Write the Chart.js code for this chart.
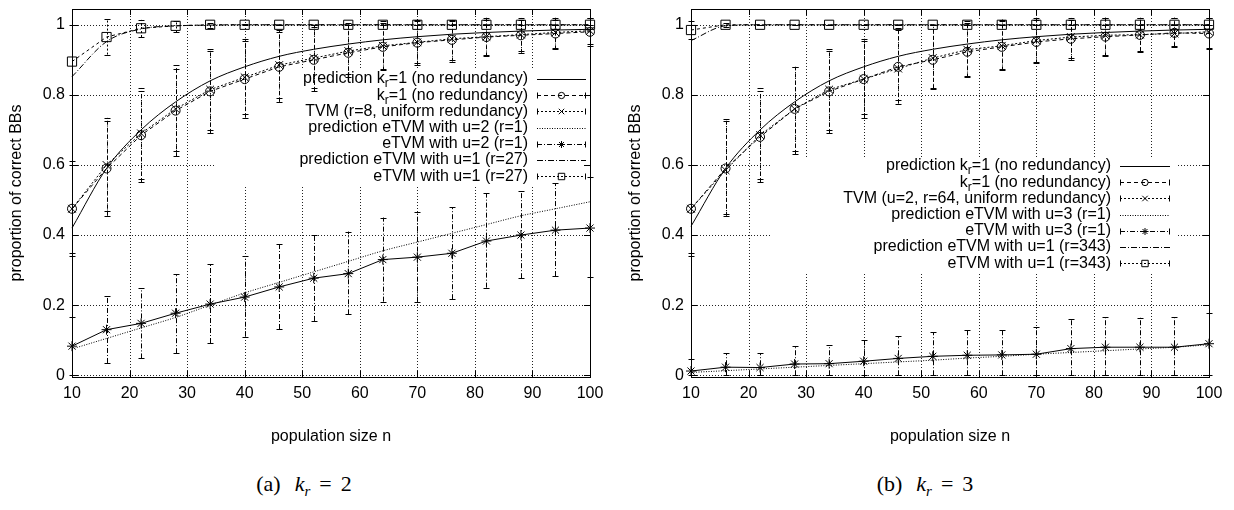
<!DOCTYPE html>
<html>
<head>
<meta charset="utf-8">
<script src="https://cdn.jsdelivr.net/npm/chart.js@4.4.1/dist/chart.umd.min.js"></script>
<style>
  body { margin: 0; background: #fff; width: 1234px; height: 510px; position: relative; overflow: hidden; }
  canvas { position: absolute; top: 0; }
  .cap { position: absolute; top: 471px; width: 240px; text-align: center; font-family: "Liberation Serif", "DejaVu Serif", serif; font-size: 22px; color: #000; white-space: nowrap; }
  .cap sub { font-size: 15px; }
  .cap .lbl { margin-right: 14px; }
  .cap .eq { margin: 0 9px; }
</style>
</head>
<body>
<canvas id="chartA" width="615" height="450" style="left:0"></canvas>
<canvas id="chartB" width="615" height="450" style="left:619px"></canvas>
<div class="cap" style="left:184px"><span class="lbl">(a)</span><i>k</i><sub><i>r</i></sub><span class="eq">=</span>2</div>
<div class="cap" style="left:805px"><span class="lbl">(b)</span><i>k</i><sub><i>r</i></sub><span class="eq">=</span>3</div>
<script>
const nValues = [10, 16, 22, 28, 34, 40, 46, 52, 58, 64, 70, 76, 82, 88, 94, 100];
const xTicks = [10, 20, 30, 40, 50, 60, 70, 80, 90, 100];
const yTicks = [0, 0.2, 0.4, 0.6, 0.8, 1];

// panel (a) k_r = 2
const labelsA = [
  'prediction k_r=1 (no redundancy)',
  'k_r=1 (no redundancy)',
  'TVM (r=8, uniform redundancy)',
  'prediction eTVM with u=2 (r=1)',
  'eTVM with u=2 (r=1)',
  'prediction eTVM with u=1 (r=27)',
  'eTVM with u=1 (r=27)'
];
const predK1A = [0.42, 0.59, 0.70, 0.78, 0.84, 0.88, 0.91, 0.93, 0.945, 0.957, 0.966, 0.973, 0.978, 0.982, 0.985, 0.987];
const k1A = [0.475, 0.59, 0.685, 0.755, 0.81, 0.845, 0.88, 0.90, 0.92, 0.937, 0.949, 0.957, 0.965, 0.97, 0.975, 0.98];
const k1LowA = [0.34, 0.455, 0.55, 0.625, 0.69, 0.735, 0.78, 0.81, 0.85, 0.87, 0.885, 0.895, 0.91, 0.92, 0.93, 0.94];
const k1HighA = [0.61, 0.735, 0.81, 0.885, 0.925, 0.955, 0.985, 1.0, 1.005, 1.01, 1.015, 1.015, 1.02, 1.02, 1.02, 1.02];
const tvmA = [0.475, 0.60, 0.69, 0.76, 0.815, 0.85, 0.885, 0.905, 0.925, 0.94, 0.95, 0.96, 0.966, 0.972, 0.978, 0.983];
const tvmLowA = [0.35, 0.47, 0.56, 0.64, 0.70, 0.745, 0.79, 0.82, 0.86, 0.875, 0.89, 0.90, 0.915, 0.925, 0.935, 0.945];
const tvmHighA = [0.60, 0.725, 0.82, 0.875, 0.93, 0.96, 0.98, 0.995, 1.0, 1.005, 1.01, 1.01, 1.015, 1.015, 1.015, 1.02];
const predU2A = [0.075, 0.105, 0.135, 0.165, 0.20, 0.235, 0.265, 0.295, 0.325, 0.355, 0.38, 0.405, 0.43, 0.455, 0.475, 0.495];
const u2A = [0.083, 0.13, 0.148, 0.177, 0.203, 0.223, 0.252, 0.277, 0.29, 0.33, 0.337, 0.348, 0.383, 0.40, 0.414, 0.42];
const u2LowA = [0.0, 0.035, 0.048, 0.063, 0.092, 0.11, 0.132, 0.155, 0.174, 0.21, 0.21, 0.217, 0.25, 0.277, 0.283, 0.28];
const u2HighA = [0.166, 0.226, 0.248, 0.29, 0.318, 0.34, 0.374, 0.40, 0.41, 0.45, 0.466, 0.48, 0.52, 0.525, 0.548, 0.565];
const predU1A = [0.852, 0.952, 0.988, 0.997, 0.999, 1, 1, 1, 1, 1, 1, 1, 1, 1, 1, 1];
const u1A = [0.895, 0.965, 0.99, 0.997, 1, 1, 1, 1, 1, 1, 1, 1, 1, 1, 1, 1];
const u1LowA = [0.80, 0.915, 0.965, 0.978, 0.992, 0.998, 1, 1, 1, 1, 1, 1, 1, 1, 1, 1];
const u1HighA = [1.0, 1.017, 1.014, 1.01, 1.005, 1.002, 1, 1, 1, 1, 1, 1, 1, 1, 1, 1];

// panel (b) k_r = 3
const labelsB = [
  'prediction k_r=1 (no redundancy)',
  'k_r=1 (no redundancy)',
  'TVM (u=2, r=64, uniform redundancy)',
  'prediction eTVM with u=3 (r=1)',
  'eTVM with u=3 (r=1)',
  'prediction eTVM with u=1 (r=343)',
  'eTVM with u=1 (r=343)'
];
const predK1B = [0.425, 0.59, 0.70, 0.78, 0.84, 0.88, 0.91, 0.93, 0.945, 0.957, 0.966, 0.973, 0.978, 0.982, 0.985, 0.987];
const k1B = [0.475, 0.59, 0.68, 0.76, 0.81, 0.845, 0.88, 0.90, 0.923, 0.937, 0.951, 0.96, 0.966, 0.971, 0.977, 0.975];
const k1LowB = [0.34, 0.455, 0.55, 0.63, 0.69, 0.735, 0.775, 0.817, 0.85, 0.87, 0.89, 0.90, 0.91, 0.923, 0.937, 0.93];
const k1HighB = [0.60, 0.73, 0.81, 0.88, 0.925, 0.96, 0.99, 1.0, 1.01, 1.015, 1.02, 1.02, 1.02, 1.02, 1.02, 1.02];
const tvmB = [0.475, 0.585, 0.685, 0.76, 0.815, 0.845, 0.875, 0.905, 0.929, 0.94, 0.955, 0.965, 0.97, 0.972, 0.975, 0.98];
const tvmLowB = [0.35, 0.46, 0.56, 0.64, 0.70, 0.745, 0.785, 0.82, 0.855, 0.875, 0.895, 0.905, 0.915, 0.925, 0.94, 0.935];
const tvmHighB = [0.60, 0.725, 0.82, 0.88, 0.93, 0.955, 0.985, 1.0, 1.005, 1.01, 1.015, 1.015, 1.02, 1.02, 1.02, 1.02];
const predU3B = [0.008, 0.013, 0.018, 0.023, 0.028, 0.033, 0.038, 0.043, 0.049, 0.054, 0.06, 0.065, 0.07, 0.075, 0.08, 0.087];
const u3B = [0.012, 0.023, 0.022, 0.032, 0.033, 0.04, 0.048, 0.054, 0.057, 0.058, 0.06, 0.076, 0.08, 0.08, 0.08, 0.09];
const u3LowB = [0, 0, 0, 0, 0, 0, 0, 0, 0, 0, 0, 0, 0, 0, 0, 0];
const u3HighB = [0.045, 0.063, 0.063, 0.083, 0.086, 0.10, 0.112, 0.123, 0.13, 0.13, 0.138, 0.16, 0.167, 0.164, 0.167, 0.177];
const predU1B = [0.955, 0.997, 1, 1, 1, 1, 1, 1, 1, 1, 1, 1, 1, 1, 1, 1];
const u1B = [0.985, 1, 1, 1, 1, 1, 1, 1, 1, 1, 1, 1, 1, 1, 1, 1];
const u1LowB = [0.96, 0.995, 1, 1, 1, 1, 1, 1, 1, 1, 1, 1, 1, 1, 1, 1];
const u1HighB = [1.01, 1.005, 1, 1, 1, 1, 1, 1, 1, 1, 1, 1, 1, 1, 1, 1];

const FONT = '"Liberation Sans", Arial, Helvetica, sans-serif';
Chart.defaults.font.family = FONT;
Chart.defaults.font.size = 16;
Chart.defaults.color = '#000';

function pts(vals) {
  return vals.map((v, i) => ({x: nValues[i], y: v}));
}

function series(label, vals, opt) {
  return Object.assign({
    label: label,
    data: pts(vals),
    borderColor: '#000',
    borderWidth: 1,
    pointRadius: 0,
    pointHoverRadius: 0,
    pointBorderColor: '#000',
    pointBackgroundColor: 'rgba(0,0,0,0)',
    pointBorderWidth: 1,
    tension: 0,
    clip: false
  }, opt);
}

// text with "_r" style subscripts
function richParts(text) {
  return text.split(/_(\w)/).map((t, i) => ({t: t, sub: i % 2 === 1}));
}
function drawRich(ctx, text, right, y) {
  const parts = richParts(text);
  let w = 0;
  parts.forEach(p => {
    ctx.font = (p.sub ? '12px ' : '16px ') + FONT;
    p.w = ctx.measureText(p.t).width;
    w += p.w;
  });
  let x = right - w;
  ctx.textAlign = 'left';
  ctx.textBaseline = 'middle';
  parts.forEach(p => {
    ctx.font = (p.sub ? '12px ' : '16px ') + FONT;
    ctx.fillText(p.t, x, p.sub ? y + 5 : y);
    x += p.w;
  });
}

function marker(ctx, style, r, x, y) {
  if (Chart.helpers && Chart.helpers.drawPoint) {
    ctx.save();
    ctx.fillStyle = 'rgba(0,0,0,0)';
    Chart.helpers.drawPoint(ctx, {pointStyle: style, rotation: 0, radius: r, borderWidth: 1}, x, y);
    ctx.restore();
  }
}

// gnuplot look: dotted grid broken around the key, box border, inner ticks, error bars, key
const gnuplotLook = {
  id: 'gnuplotLook',
  beforeDatasetsDraw(chart, args, opts) {
    const {ctx, chartArea: a} = chart;
    const xs = chart.scales.x, ys = chart.scales.y;
    const box = opts.keyBox;
    ctx.save();
    ctx.strokeStyle = '#222';
    ctx.lineWidth = 1;
    ctx.setLineDash([1, 2]);
    ctx.beginPath();
    xTicks.forEach(v => {
      if (v === xTicks[0] || v === xTicks[xTicks.length - 1]) return;
      const px = Math.round(xs.getPixelForValue(v)) + 0.5;
      if (px > box.xl && px < box.xr) {
        ctx.moveTo(px, a.bottom); ctx.lineTo(px, box.bottom);
        ctx.moveTo(px, box.top); ctx.lineTo(px, a.top);
      } else {
        ctx.moveTo(px, a.bottom); ctx.lineTo(px, a.top);
      }
    });
    yTicks.forEach(v => {
      const py = Math.round(ys.getPixelForValue(v)) + 0.5;
      if (py > box.top && py < box.bottom) {
        ctx.moveTo(a.left, py); ctx.lineTo(box.xl, py);
        if (box.xr < a.right) { ctx.moveTo(box.xr, py); ctx.lineTo(a.right, py); }
      } else {
        ctx.moveTo(a.left, py); ctx.lineTo(a.right, py);
      }
    });
    ctx.stroke();

    // border and inward ticks
    ctx.setLineDash([]);
    ctx.strokeStyle = '#000';
    ctx.strokeRect(Math.round(a.left) + 0.5, Math.round(a.top) + 0.5, Math.round(a.right - a.left), Math.round(a.bottom - a.top));
    ctx.beginPath();
    xTicks.forEach(v => {
      const px = Math.round(xs.getPixelForValue(v)) + 0.5;
      ctx.moveTo(px, a.bottom); ctx.lineTo(px, a.bottom - 6);
      ctx.moveTo(px, a.top); ctx.lineTo(px, a.top + 6);
    });
    yTicks.forEach(v => {
      const py = Math.round(ys.getPixelForValue(v)) + 0.5;
      ctx.moveTo(a.left, py); ctx.lineTo(a.left + 6, py);
      ctx.moveTo(a.right, py); ctx.lineTo(a.right - 6, py);
    });
    ctx.stroke();

    // error bars
    chart.data.datasets.forEach(ds => {
      if (!ds.errLow) return;
      ds.errLow.forEach((lo, i) => {
        const px = Math.round(xs.getPixelForValue(nValues[i])) + 0.5;
        const y1 = Math.min(ys.getPixelForValue(lo), a.bottom);
        const y2 = Math.max(ys.getPixelForValue(ds.errHigh[i]), a.top);
        ctx.setLineDash(ds.errDash);
        ctx.beginPath();
        ctx.moveTo(px, y1); ctx.lineTo(px, y2);
        ctx.stroke();
        ctx.setLineDash([]);
        ctx.beginPath();
        ctx.moveTo(px - 3, Math.round(y1) + 0.5); ctx.lineTo(px + 3, Math.round(y1) + 0.5);
        ctx.moveTo(px - 3, Math.round(y2) + 0.5); ctx.lineTo(px + 3, Math.round(y2) + 0.5);
        ctx.stroke();
      });
    });
    ctx.restore();
  },
  afterDatasetsDraw(chart, args, opts) {
    const {ctx} = chart;
    const key = opts.key;
    ctx.save();
    ctx.fillStyle = '#000';
    ctx.strokeStyle = '#000';
    ctx.lineWidth = 1;
    chart.data.datasets.forEach((ds, i) => {
      const y = key.top + i * key.dy;
      const ly = Math.round(y) + 0.5;
      drawRich(ctx, ds.label, key.textRight, y);
      ctx.setLineDash(ds.legendDash || ds.borderDash || []);
      ctx.beginPath();
      ctx.moveTo(key.x0, ly); ctx.lineTo(key.x1, ly);
      ctx.stroke();
      ctx.setLineDash([]);
      if (ds.errLow) {
        ctx.beginPath();
        ctx.moveTo(key.x0 + 0.5, ly - 3); ctx.lineTo(key.x0 + 0.5, ly + 3);
        ctx.moveTo(key.x1 - 0.5, ly - 3); ctx.lineTo(key.x1 - 0.5, ly + 3);
        ctx.stroke();
      }
      if (ds.pointStyle && ds.pointRadius > 0) {
        marker(ctx, ds.pointStyle, ds.pointRadius * 0.7, (key.x0 + key.x1) / 2, ly);
      }
    });
    ctx.restore();
  }
};

function makeChart(id, datasets, keyBox, key) {
  return new Chart(document.getElementById(id), {
    type: 'line',
    data: {datasets: datasets},
    options: {
      responsive: false,
      animation: false,
      events: [],
      layout: {padding: {top: 9, right: 25, left: 0, bottom: 0}},
      plugins: {
        legend: {display: false},
        tooltip: {enabled: false},
        gnuplotLook: {keyBox: keyBox, key: key}
      },
      scales: {
        x: {
          type: 'linear',
          min: 10,
          max: 100,
          afterBuildTicks: s => { s.ticks = xTicks.map(v => ({value: v})); },
          afterFit: s => { s.height = 73; s.paddingLeft = 0; s.paddingRight = 0; },
          grid: {display: false, drawTicks: false},
          border: {display: false},
          ticks: {padding: 7, maxRotation: 0, autoSkip: false, color: '#000'},
          title: {display: true, text: 'population size n', color: '#000', padding: {top: 0, bottom: 4}}
        },
        y: {
          type: 'linear',
          min: -0.005,
          max: 1.045,
          afterBuildTicks: s => { s.ticks = yTicks.map(v => ({value: v})); },
          afterFit: s => { s.width = 72; s.paddingTop = 0; s.paddingBottom = 0; },
          grid: {display: false, drawTicks: false},
          border: {display: false},
          ticks: {padding: 7, color: '#000', callback: v => String(Math.round(v * 10) / 10)},
          title: {display: true, text: 'proportion of correct BBs', color: '#000', padding: {top: 7, bottom: 0}}
        }
      }
    },
    plugins: [gnuplotLook]
  });
}

const datasetsA = [
  series(labelsA[0], predK1A, {cubicInterpolationMode: 'monotone'}),
  series(labelsA[1], k1A, {borderDash: [4, 3], pointStyle: 'circle', pointRadius: 4.5, errLow: k1LowA, errHigh: k1HighA, errDash: [4, 3]}),
  series(labelsA[2], tvmA, {borderDash: [2, 2], pointStyle: 'crossRot', pointRadius: 5.5, errLow: tvmLowA, errHigh: tvmHighA, errDash: [1, 2]}),
  series(labelsA[3], predU2A, {borderDash: [1, 1.5], cubicInterpolationMode: 'monotone'}),
  series(labelsA[4], u2A, {pointStyle: 'star', pointRadius: 5, errLow: u2LowA, errHigh: u2HighA, errDash: [5, 2, 1, 2], legendDash: [5, 2, 1, 2]}),
  series(labelsA[5], predU1A, {borderDash: [6, 2, 1, 2], cubicInterpolationMode: 'monotone'}),
  series(labelsA[6], u1A, {borderDash: [3, 3], pointStyle: 'rect', pointRadius: 6.5, errLow: u1LowA, errHigh: u1HighA, errDash: [2, 2], legendDash: [2, 2]})
];

const datasetsB = [
  series(labelsB[0], predK1B, {cubicInterpolationMode: 'monotone'}),
  series(labelsB[1], k1B, {borderDash: [4, 3], pointStyle: 'circle', pointRadius: 4.5, errLow: k1LowB, errHigh: k1HighB, errDash: [4, 3]}),
  series(labelsB[2], tvmB, {borderDash: [2, 2], pointStyle: 'crossRot', pointRadius: 5.5, errLow: tvmLowB, errHigh: tvmHighB, errDash: [1, 2]}),
  series(labelsB[3], predU3B, {borderDash: [1, 1.5], cubicInterpolationMode: 'monotone'}),
  series(labelsB[4], u3B, {pointStyle: 'star', pointRadius: 5, errLow: u3LowB, errHigh: u3HighB, errDash: [5, 2, 1, 2], legendDash: [5, 2, 1, 2]}),
  series(labelsB[5], predU1B, {borderDash: [6, 2, 1, 2], cubicInterpolationMode: 'monotone'}),
  series(labelsB[6], u1B, {borderDash: [3, 3], pointStyle: 'rect', pointRadius: 6.5, errLow: u1LowB, errHigh: u1HighB, errDash: [2, 2], legendDash: [2, 2]})
];

// key positions are in canvas pixels
makeChart('chartA', datasetsA, {xl: 214, xr: 596, top: 68, bottom: 186}, {top: 79, dy: 16.2, textRight: 528, x0: 537, x1: 586});
makeChart('chartB', datasetsB, {xl: 151, xr: 559, top: 157, bottom: 272}, {top: 166, dy: 16.2, textRight: 492, x0: 501, x1: 551});
</script>
</body>
</html>
